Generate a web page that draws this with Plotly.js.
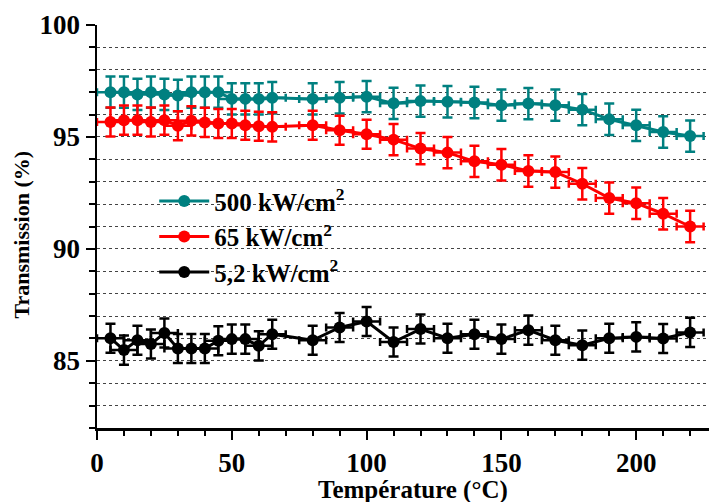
<!DOCTYPE html>
<html>
<head>
<meta charset="utf-8">
<script src="https://cdn.plot.ly/plotly-3.0.1.min.js"></script>
<style>
html,body{margin:0;padding:0;background:#fff;}
#chart{width:709px;height:502px;}
</style>
</head>
<body>
<div id="chart"></div>
<script>
// Temperatures (°C)
const temps = [5,10,15,20,25,30,35,40,45,50,55,60,65,80,90,100,110,120,130,140,150,160,170,180,190,200,210,220];

// Transmission (%) per irradiance
const t500 = [97.0,97.0,96.9,97.0,96.9,96.85,97.0,97.0,97.0,96.7,96.7,96.7,96.75,96.7,96.75,96.8,96.5,96.6,96.57,96.54,96.42,96.49,96.42,96.22,95.79,95.52,95.22,95.04];
const t65  = [95.67,95.75,95.75,95.67,95.75,95.5,95.72,95.65,95.6,95.6,95.52,95.48,95.45,95.52,95.3,95.12,94.88,94.48,94.3,93.91,93.76,93.48,93.43,92.91,92.27,92.04,91.57,91.0];
const t52  = [86.01,85.48,85.92,85.75,86.24,85.55,85.55,85.55,85.9,85.97,85.97,85.67,86.19,85.92,86.49,86.76,85.84,86.42,86.01,86.19,85.97,86.37,85.92,85.70,86.01,86.07,86.0,86.27];

// Error bars
const e500 = [0.7,0.7,0.7,0.7,0.7,0.7,0.7,0.7,0.7,0.7,0.7,0.7,0.7,0.7,0.7,0.7,0.7,0.7,0.7,0.7,0.7,0.7,0.7,0.7,0.7,0.7,0.7,0.7];
const e65  = [0.65,0.65,0.65,0.65,0.65,0.65,0.65,0.65,0.65,0.65,0.65,0.65,0.65,0.65,0.65,0.65,0.7,0.7,0.7,0.7,0.7,0.7,0.7,0.7,0.7,0.7,0.7,0.7];
const e52  = [0.65,0.65,0.65,0.65,0.65,0.65,0.65,0.65,0.65,0.65,0.65,0.65,0.65,0.65,0.65,0.65,0.65,0.65,0.65,0.65,0.65,0.65,0.65,0.65,0.65,0.65,0.65,0.65];
const eTemp = 5;

const names = ['500 kW/cm<sup>2</sup>','65 kW/cm<sup>2</sup>','5,2 kW/cm<sup>2</sup>'];
const colors = ['#008080','#ff0000','#000000'];

const FONT = 'Liberation Serif, Times New Roman, serif';

function mk(y, e, name, color){
  return {
    x: temps, y: y, name: name, type: 'scatter', mode: 'lines+markers',
    line: {color: color, width: 3},
    marker: {color: color, size: 12},
    error_y: {type: 'data', array: e, visible: true, color: color, thickness: 2.5, width: 5},
    error_x: {type: 'constant', value: eTemp, visible: true, color: color, thickness: 2.5, width: 4}
  };
}

const data = [
  mk(t500, e500, names[0], colors[0]),
  mk(t65, e65, names[1], colors[1]),
  mk(t52, e52, names[2], colors[2])
];

const layout = {
  width: 709, height: 502,
  margin: {l: 97, r: 0, t: 25, b: 74},
  paper_bgcolor: '#fff', plot_bgcolor: '#fff',
  font: {family: FONT, color: '#000', weight: 'bold'},
  showlegend: true,
  legend: {x: 0.0935, y: 0.62, xanchor: 'left', yanchor: 'top', bgcolor: 'rgba(0,0,0,0)',
           itemwidth: 50,
           font: {family: FONT, size: 25, color: '#000', weight: 'bold'}, tracegroupgap: 0},
  xaxis: {
    range: [0, 227], showline: true, linecolor: '#000', linewidth: 2.5,
    ticks: 'outside', ticklen: 9, tickwidth: 2, tickcolor: '#000',
    tickvals: [0,50,100,150,200], ticktext: ['0','50','100','150','200'],
    minor: {dtick: 10, tick0: 0, ticks: 'outside', ticklen: 5, tickwidth: 2, tickcolor: '#000', showgrid: false},
    showgrid: false, zeroline: false,
    tickfont: {family: FONT, size: 27, color: '#000', weight: 'bold'}
  },
  yaxis: {
    range: [82, 100], showline: true, linecolor: '#000', linewidth: 2.5,
    ticks: 'outside', ticklen: 9, tickwidth: 2, tickcolor: '#000',
    tickvals: [85,90,95,100], ticktext: ['85','90','95','100'],
    minor: {dtick: 1, tick0: 0, ticks: 'outside', ticklen: 6, tickwidth: 2, tickcolor: '#000',
            showgrid: true, gridcolor: '#444', griddash: 'dot', gridwidth: 1},
    showgrid: true, gridcolor: '#444', griddash: 'dot', gridwidth: 1, zeroline: false,
    tickfont: {family: FONT, size: 27, color: '#000', weight: 'bold'}
  },
  annotations: [
    {text: 'Température (°C)', xref: 'paper', yref: 'paper', x: 0.516, y: -0.154,
     xanchor: 'center', yanchor: 'middle', showarrow: false,
     font: {family: FONT, size: 25, color: '#000', weight: 'bold'}},
    {text: 'Transmission (%)', xref: 'paper', yref: 'paper', x: -0.1225, y: 0.48,
     xanchor: 'center', yanchor: 'middle', showarrow: false, textangle: -90,
     font: {family: FONT, size: 22, color: '#000', weight: 'bold'}}
  ]
};

Plotly.newPlot('chart', data, layout, {displayModeBar: false, staticPlot: true});
</script>
</body>
</html>
